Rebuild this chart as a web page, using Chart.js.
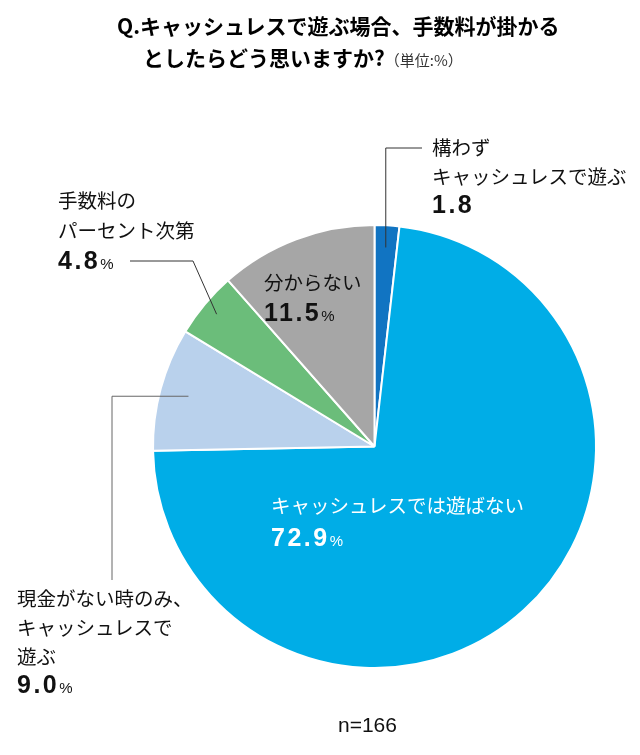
<!DOCTYPE html>
<html>
<head>
<meta charset="utf-8">
<script src="https://cdn.jsdelivr.net/npm/chart.js@4"></script>
<style>
  html, body { margin:0; padding:0; background:#fff; }
  #wrap { position:relative; width:640px; height:755px; overflow:hidden; }
  canvas { position:absolute; left:0; top:0; }
  .t { position:absolute; white-space:nowrap; font-family:"Noto Sans CJK JP", sans-serif; color:#111; }
  .ttl { font-weight:700; font-size:21px; line-height:28px; color:#000; }
  .unit { font-weight:400; font-size:15px; color:#333; }
  .lbl { font-size:19.5px; line-height:30px; }
  .num { font-family:"Liberation Sans", Arial, sans-serif; font-weight:700; font-size:25px; letter-spacing:2.5px; }
  .pct { font-family:"Liberation Sans", Arial, sans-serif; font-weight:400; font-size:15px; }
</style>
</head>
<body>
<div id="wrap">
  <canvas id="c" width="640" height="755" style="width:640px;height:755px"></canvas>
  <div class="t ttl" id="title1" style="left:117px;top:11px;">Q.キャッシュレスで遊ぶ場合、手数料が掛かる</div>
  <div class="t ttl" id="title2" style="left:143px;top:43px;">としたらどう思いますか?<span class="unit">（単位:%）</span></div>
  <div id="labels"></div>
  <div class="t" id="nlabel" style="left:338px;top:711px;font-family:'Liberation Sans',Arial,sans-serif;font-size:21px;line-height:28px;"></div>
</div>
<script>
const categories = ["構わず\nキャッシュレスで遊ぶ", "キャッシュレスでは遊ばない", "現金がない時のみ、\nキャッシュレスで\n遊ぶ", "手数料の\nパーセント次第", "分からない"];
const values = [1.8, 72.9, 9.0, 4.8, 11.5];
const showPct = [false, true, true, true, true];
const colors = ["#1174c2", "#00ade7", "#b9d1ec", "#6bbd7a", "#a6a6a6"];
const sampleSize = "n=166";

// label layout: [left, top, lineHeight, textColor]
const labelLayout = [
  [432, 133, 28.5, "#111"],
  [271, 488, 33, "#fff"],
  [17, 583, 29, "#111"],
  [58, 185, 30, "#111"],
  [264, 267, 30, "#111"]
];

const labelsDiv = document.getElementById('labels');
categories.forEach((cat, i) => {
  const [l, t, lh, col] = labelLayout[i];
  const d = document.createElement('div');
  d.className = 't lbl';
  d.style.left = l + 'px';
  d.style.top = t + 'px';
  d.style.lineHeight = lh + 'px';
  d.style.color = col;
  const lines = cat.split('\n').map(s => '<div>' + s + '</div>').join('');
  const num = '<div><span class="num">' + values[i].toFixed(1) + '</span>' + (showPct[i] ? '<span class="pct">%</span>' : '') + '</div>';
  d.innerHTML = lines + num;
  labelsDiv.appendChild(d);
});
document.getElementById('nlabel').textContent = sampleSize;

// leader lines: anchor inside slice (radius fraction), then path points
const leaders = {
  0: { r: 0.9, color: '#333', path: [[null, 148], [422, 148]] },
  2: { r: 0.87, color: '#666', path: [[112, null], [112, 580]] },
  3: { r: 0.93, color: '#333', path: [[193, 261], [130, 261]] }
};

const leaderPlugin = {
  id: 'leaders',
  afterDatasetsDraw(chart) {
    const ctx = chart.ctx;
    const meta = chart.getDatasetMeta(0);
    ctx.save();
    ctx.lineWidth = 1;
    Object.keys(leaders).forEach(k => {
      const arc = meta.data[k];
      const spec = leaders[k];
      const mid = (arc.startAngle + arc.endAngle) / 2;
      const ax = arc.x + Math.cos(mid) * arc.outerRadius * spec.r;
      const ay = arc.y + Math.sin(mid) * arc.outerRadius * spec.r;
      ctx.strokeStyle = spec.color;
      ctx.beginPath();
      ctx.moveTo(ax, ay);
      let px = ax, py = ay;
      spec.path.forEach(([x, y]) => {
        const nx = x === null ? px : x;
        const ny = y === null ? py : y;
        ctx.lineTo(nx, ny);
        px = nx; py = ny;
      });
      ctx.stroke();
    });
    ctx.restore();
  }
};

new Chart(document.getElementById('c'), {
  type: 'pie',
  data: {
    labels: categories,
    datasets: [{
      data: values,
      backgroundColor: colors,
      borderColor: '#ffffff',
      borderWidth: 2
    }]
  },
  options: {
    responsive: false,
    animation: false,
    layout: { padding: { left: 152, right: 43, top: 224, bottom: 86 } },
    plugins: { legend: { display: false }, tooltip: { enabled: false }, title: { display: false } }
  },
  plugins: [leaderPlugin]
});
</script>
</body>
</html>
